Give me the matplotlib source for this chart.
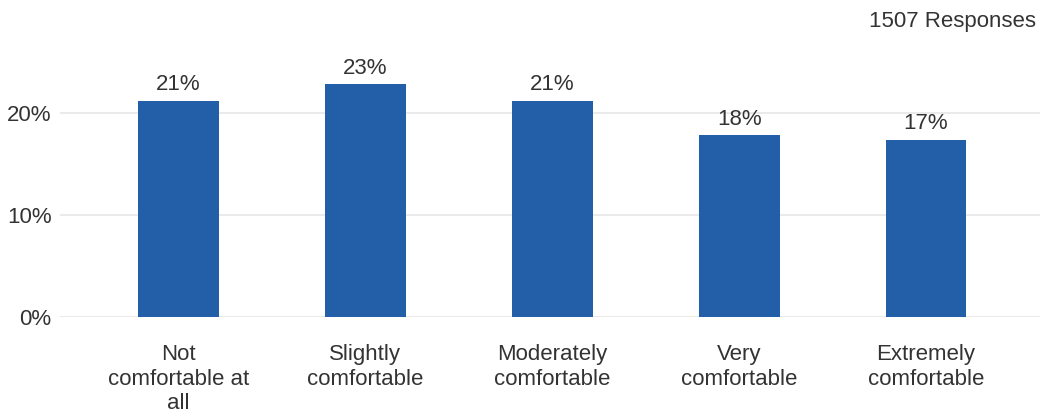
import numpy as np
import matplotlib.pyplot as plt
from matplotlib.ticker import FuncFormatter

categorias = ["Not\ncomfortable at\nall", "Slightly\ncomfortable", "Moderately\ncomfortable",
              "Very\ncomfortable", "Extremely\ncomfortable"]
valores = [21.2, 22.8, 21.2, 17.8, 17.35]
rotulos = ["21%", "23%", "21%", "18%", "17%"]
respostas = "1507 Responses"

plt.rcParams['font.family'] = ['Liberation Sans', 'DejaVu Sans']
cor_texto = '#333333'
tam = 16

fig = plt.figure(figsize=(10.62, 4.17), dpi=100)
ax = fig.add_axes([60/1062, 1 - 316.7/417, 980/1062, (316.7 - 62)/417])

x = np.arange(len(categorias))
barras = ax.bar(x, valores, width=0.433, color='#235FA8', zorder=2)

for xi, v, r in zip(x, valores, rotulos):
    ax.annotate(r, (xi, v), textcoords="offset points", xytext=(0, 4), ha='center', va='bottom',
                fontsize=tam, color=cor_texto)

ax.set_xlim(-0.634, 4.61)
ax.set_ylim(0, 25)
ax.set_yticks([0, 10, 20])
ax.yaxis.set_major_formatter(FuncFormatter(lambda v, p: f"{v:.0f}%"))
ax.grid(axis='y', color='#e6e6e6', linewidth=1.2, zorder=0)
for s in ax.spines.values():
    s.set_visible(False)
ax.tick_params(axis='y', length=0, pad=6, labelsize=tam, labelcolor=cor_texto)
ax.tick_params(axis='x', length=0, pad=20, labelsize=tam, labelcolor=cor_texto)
ax.set_xticks(x)
ax.set_xticklabels(categorias, linespacing=1.2)

fig.text(1036/1062, 1 - 21/417, respostas, ha='right', va='center', fontsize=tam, color=cor_texto)

fig.savefig("out.png", dpi=100)
